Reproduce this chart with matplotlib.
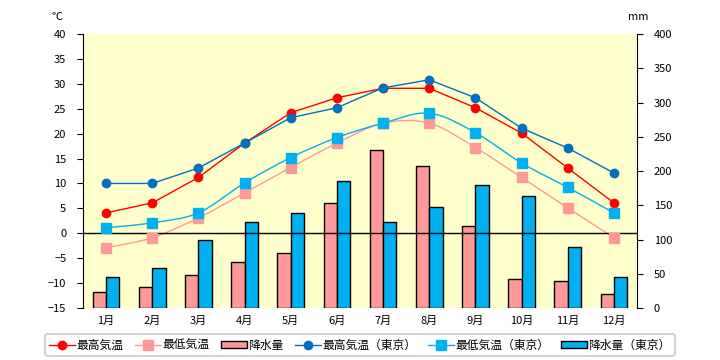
import matplotlib.pyplot as plt
from matplotlib.path import Path
from matplotlib.patches import PathPatch
from matplotlib.lines import Line2D
from matplotlib.patches import Patch

plt.rcParams['font.family'] = ['Noto Sans CJK JP', 'DejaVu Sans']

months = ['1月', '2月', '3月', '4月', '5月', '6月',
          '7月', '8月', '9月', '10月', '11月', '12月']

high_local = [4.1, 6.1, 11.2, 18.1, 24.2, 27.2, 29.1, 29.1, 25.2, 20.1, 13.1, 6.1]
low_local = [-2.9, -0.9, 3.1, 8.1, 13.2, 18.1, 22.1, 22.1, 17.2, 11.2, 5.1, -0.9]
rain_local = [23, 30, 48, 67, 80, 154, 230, 208, 119, 42, 39, 20]

high_tokyo = [10.0, 10.0, 13.1, 18.1, 23.2, 25.2, 29.2, 30.8, 27.2, 21.1, 17.1, 12.1]
low_tokyo = [1.1, 2.1, 4.1, 10.1, 15.2, 19.2, 22.1, 24.1, 20.2, 14.1, 9.2, 4.1]
rain_tokyo = [45, 59, 100, 125, 138, 185, 125, 147, 179, 163, 89, 45]

RED = '#FF0000'
PINK = '#FF9999'
BLUE = '#0070C0'
CYAN = '#00B0F0'


def smooth_path(x, y):
    """Catmull-Rom style bezier path through the points (like Excel smoothing)."""
    pts = list(zip(x, y))
    verts = [pts[0]]
    codes = [Path.MOVETO]
    n = len(pts)
    for i in range(n - 1):
        p0 = pts[i - 1] if i > 0 else pts[i]
        p1 = pts[i]
        p2 = pts[i + 1]
        p3 = pts[i + 2] if i + 2 < n else pts[i + 1]
        c1 = (p1[0] + (p2[0] - p0[0]) / 6, p1[1] + (p2[1] - p0[1]) / 6)
        c2 = (p2[0] - (p3[0] - p1[0]) / 6, p2[1] - (p3[1] - p1[1]) / 6)
        verts += [c1, c2, p2]
        codes += [Path.CURVE4] * 3
    return Path(verts, codes)


fig = plt.figure(figsize=(7.2, 3.6), dpi=100)
ax = fig.add_axes([83 / 720, 52 / 360, 554 / 720, 274 / 360])
ax2 = ax.twinx()

x = list(range(len(months)))
w = 0.29

# bars on the precipitation axis (drawn below)
ax.bar([i - w / 2 for i in x], rain_local, width=w, color=PINK,
       edgecolor='black', linewidth=1)
ax.bar([i + w / 2 for i in x], rain_tokyo, width=w, color=CYAN,
       edgecolor='black', linewidth=1)
ax.set_ylim(0, 400)
ax.set_yticks(range(0, 401, 50))
ax.set_facecolor('#FFFFCC')
ax.yaxis.tick_right()

# temperatures
ax2.axhline(0, color='black', lw=1)
ax2.add_patch(PathPatch(smooth_path(x, low_local), fill=False,
                        edgecolor=PINK, lw=1))
ax2.add_patch(PathPatch(smooth_path(x, low_tokyo), fill=False,
                        edgecolor=CYAN, lw=1))
ax2.plot(x, low_local, ls='none', marker='s', ms=6.5, color=PINK)
ax2.plot(x, high_local, color=RED, lw=1, marker='o', ms=6)
ax2.plot(x, low_tokyo, ls='none', marker='s', ms=6.5, color=CYAN)
ax2.plot(x, high_tokyo, color=BLUE, lw=1, marker='o', ms=6)
ax2.set_ylim(-15, 40)
ax2.set_yticks(range(-15, 41, 5))
ax2.yaxis.tick_left()

ax.set_xlim(-0.5, 11.5)
ax.set_xticks(x)
ax.set_xticklabels(months)
ax.tick_params(axis='x', length=0, pad=6, labelsize=8)
ax.tick_params(axis='y', direction='out', length=4, labelsize=8, pad=8)
ax2.tick_params(axis='y', direction='out', length=4, labelsize=8, pad=8)

for a in (ax, ax2):
    a.spines['top'].set_visible(False)
    a.spines['bottom'].set_visible(False)
ax.spines['left'].set_visible(False)
ax2.spines['right'].set_visible(False)
ax.spines['right'].set_visible(True)
ax2.spines['left'].set_visible(True)

fig.text(57 / 720, 1 - 17 / 360, '℃', fontsize=8, ha='center', va='center')
fig.text(638 / 720, 1 - 17 / 360, 'mm', fontsize=8, ha='center', va='center')

handles = [
    Line2D([], [], color=RED, marker='o', ms=6, lw=1),
    Line2D([], [], color=PINK, marker='s', ms=6.5, lw=1),
    Patch(facecolor=PINK, edgecolor='black', lw=1),
    Line2D([], [], color=BLUE, marker='o', ms=6, lw=1),
    Line2D([], [], color=CYAN, marker='s', ms=6.5, lw=1),
    Patch(facecolor=CYAN, edgecolor='black', lw=1),
]
labels = ['最高気温', '最低気温', '降水量',
          '最高気温（東京）', '最低気温（東京）', '降水量（東京）']
leg = fig.legend(handles, labels, loc='center',
                 bbox_to_anchor=(360 / 720, 1 - 345 / 360), ncol=6,
                 fontsize=8.5, frameon=True, fancybox=True,
                 handlelength=2.2, handletextpad=0.1, columnspacing=1.0,
                 borderpad=0.35, handleheight=0.6)
leg.get_frame().set_edgecolor('#C8C8C8')
leg.get_frame().set_linewidth(1.5)

fig.savefig('out.png', dpi=100)
